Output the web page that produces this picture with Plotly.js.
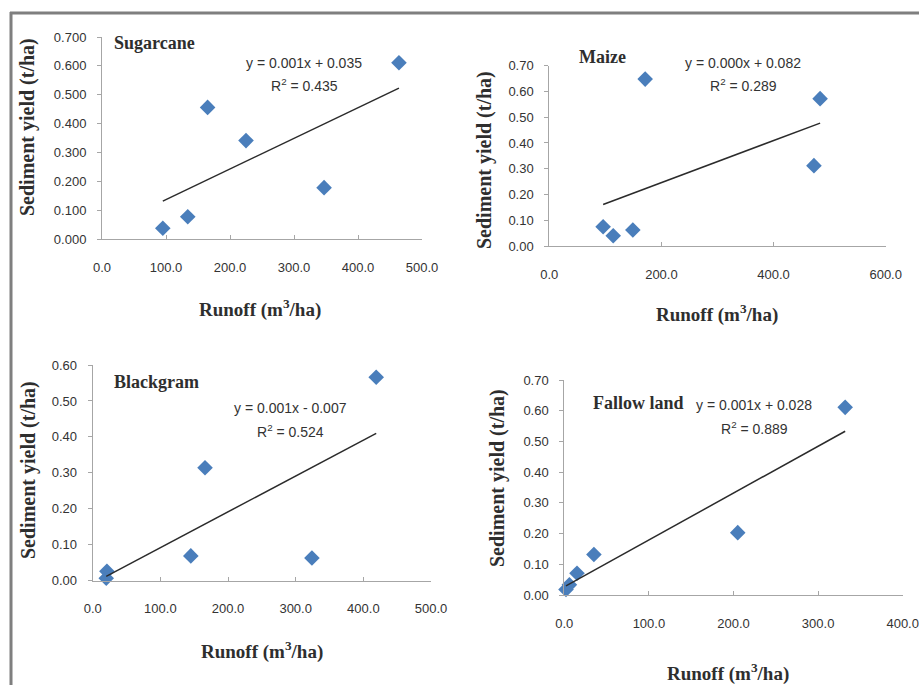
<!DOCTYPE html>
<html>
<head>
<meta charset="utf-8">
<script src="https://cdn.plot.ly/plotly-3.0.1.min.js"></script>
<style>html,body{margin:0;padding:0;background:#fff;}#chart{width:919px;height:685px;}</style>
</head>
<body>
<div id="chart"></div>
<script>
// ---- Data ----
const cropNames = ["Sugarcane", "Maize", "Blackgram", "Fallow land"];
const sugarcaneRunoff = [95, 134, 165, 225, 347, 464];
const sugarcaneSediment = [0.037, 0.077, 0.456, 0.341, 0.178, 0.611];
const maizeRunoff = [96, 114, 149, 171, 472, 483];
const maizeSediment = [0.075, 0.040, 0.062, 0.648, 0.312, 0.572];
const blackgramRunoff = [20, 21, 145, 166, 324, 419];
const blackgramSediment = [0.007, 0.026, 0.069, 0.314, 0.063, 0.566];
const fallowRunoff = [2, 6, 15, 35, 205, 332];
const fallowSediment = [0.018, 0.033, 0.071, 0.132, 0.203, 0.611];
const equationTexts = ["y = 0.001x + 0.035", "y = 0.000x + 0.082", "y = 0.001x - 0.007", "y = 0.001x + 0.028"];
const r2Texts = ["0.435", "0.289", "0.524", "0.889"];
const xAxisMax = [500, 600, 500, 400];
const xAxisStep = [100, 200, 100, 100];
const yAxisMax = [0.7, 0.7, 0.6, 0.7];
const yTickFormats = [".3f", ".2f", ".2f", ".2f"];

const runoffSets = [sugarcaneRunoff, maizeRunoff, blackgramRunoff, fallowRunoff];
const sedimentSets = [sugarcaneSediment, maizeSediment, blackgramSediment, fallowSediment];

// ---- Layout geometry (pixels in 919x685) ----
const W = 919, H = 685;
const plotBoxes = [
  {x0: 102, x1: 422, yTop: 37, yBot: 239},
  {x0: 549.3, x1: 885.7, yTop: 65.7, yBot: 246},
  {x0: 92.7, x1: 431, yTop: 365, yBot: 580.7},
  {x0: 564.3, x1: 902.7, yTop: 380, yBot: 595}
];
const cropLabelPos = [[112, 43], [577, 57], [112, 382], [591, 403]];
const eqPos = [[304, 63], [743, 63], [290, 408], [754, 405]];
const r2Pos = [[304, 85], [743, 85], [290, 431], [754, 428]];
const xTitlePos = [[260, 308], [717, 313], [262, 650], [728, 672]];
const yTitlePos = [[28, 127], [485, 160], [28, 470], [498, 478]];

function linreg(xs, ys) {
  const n = xs.length;
  const mx = xs.reduce((a, b) => a + b, 0) / n;
  const my = ys.reduce((a, b) => a + b, 0) / n;
  let sxy = 0, sxx = 0;
  for (let i = 0; i < n; i++) { sxy += (xs[i] - mx) * (ys[i] - my); sxx += (xs[i] - mx) ** 2; }
  const m = sxy / sxx;
  return {m: m, b: my - m * mx};
}

const px = v => v / W;
const py = v => 1 - v / H;

const traces = [];
const layout = {
  width: W, height: H,
  margin: {l: 0, r: 0, t: 0, b: 0},
  paper_bgcolor: "#ffffff",
  plot_bgcolor: "rgba(0,0,0,0)",
  showlegend: false,
  annotations: [],
  shapes: [
    {type: "line", xref: "paper", yref: "paper", x0: px(11), x1: px(11), y0: py(12), y1: py(690), line: {color: "#7f7f7f", width: 3}},
    {type: "line", xref: "paper", yref: "paper", x0: px(10), x1: px(925), y0: py(13), y1: py(13), line: {color: "#7f7f7f", width: 3}}
  ]
};

const tickFont = {family: "Liberation Sans, Arial, sans-serif", size: 13, color: "#333333"};
const labelFont = {family: "Liberation Serif, Times New Roman, serif", size: 18, color: "#2e2e2e"};
const xTitleFont = {family: "Liberation Serif, Times New Roman, serif", size: 19, color: "#2e2e2e"};
const yTitleFont = {family: "Liberation Serif, Times New Roman, serif", size: 20, color: "#2e2e2e"};
const eqFont = {family: "Liberation Sans, Arial, sans-serif", size: 14, color: "#333333"};

for (let k = 0; k < 4; k++) {
  const suffix = k === 0 ? "" : String(k + 1);
  const xs = runoffSets[k], ys = sedimentSets[k];
  const box = plotBoxes[k];
  traces.push({
    type: "scatter", mode: "markers", x: xs, y: ys,
    xaxis: "x" + suffix, yaxis: "y" + suffix,
    marker: {symbol: "diamond", size: 12, color: "#4a7ebb", line: {width: 0}},
    cliponaxis: false
  });
  const fit = linreg(xs, ys);
  const xmin = Math.min(...xs), xmax = Math.max(...xs);
  traces.push({
    type: "scatter", mode: "lines", x: [xmin, xmax], y: [fit.m * xmin + fit.b, fit.m * xmax + fit.b],
    xaxis: "x" + suffix, yaxis: "y" + suffix,
    line: {color: "#2b2b2b", width: 1.5}, hoverinfo: "skip"
  });
  layout["xaxis" + suffix] = {
    domain: [px(box.x0), px(box.x1)],
    anchor: "y" + suffix,
    range: [0, xAxisMax[k]],
    dtick: xAxisStep[k], tick0: 0,
    tickformat: ".1f",
    showgrid: false, zeroline: false,
    showline: true, linecolor: "#a6a6a6", linewidth: 1,
    ticks: "inside", ticklen: 4, tickcolor: "#a6a6a6",
    ticklabelstandoff: 16,
    tickfont: tickFont
  };
  layout["yaxis" + suffix] = {
    domain: [py(box.yBot), py(box.yTop)],
    anchor: "x" + suffix,
    range: [0, yAxisMax[k]],
    dtick: 0.1, tick0: 0,
    tickformat: yTickFormats[k],
    showgrid: false, zeroline: false,
    showline: true, linecolor: "#a6a6a6", linewidth: 1,
    ticks: "outside", ticklen: 4, tickcolor: "#a6a6a6",
    ticklabelstandoff: 8,
    tickfont: tickFont
  };
  layout.annotations.push(
    {xref: "paper", yref: "paper", x: px(cropLabelPos[k][0]), y: py(cropLabelPos[k][1]), xanchor: "left", yanchor: "middle",
     text: "<b>" + cropNames[k] + "</b>", showarrow: false, font: labelFont},
    {xref: "paper", yref: "paper", x: px(eqPos[k][0]), y: py(eqPos[k][1]), xanchor: "center", yanchor: "middle",
     text: equationTexts[k], showarrow: false, font: eqFont},
    {xref: "paper", yref: "paper", x: px(r2Pos[k][0]), y: py(r2Pos[k][1]), xanchor: "center", yanchor: "middle",
     text: "R<sup>2</sup> = " + r2Texts[k], showarrow: false, font: eqFont},
    {xref: "paper", yref: "paper", x: px(xTitlePos[k][0]), y: py(xTitlePos[k][1]), xanchor: "center", yanchor: "middle",
     text: "<b>Runoff (m<sup>3</sup>/ha)</b>", showarrow: false, font: xTitleFont},
    {xref: "paper", yref: "paper", x: px(yTitlePos[k][0]), y: py(yTitlePos[k][1]), xanchor: "center", yanchor: "middle",
     text: "<b>Sediment yield (t/ha)</b>", textangle: -90, showarrow: false, font: yTitleFont}
  );
}

Plotly.newPlot("chart", traces, layout, {displayModeBar: false, staticPlot: true});
</script>
</body>
</html>
